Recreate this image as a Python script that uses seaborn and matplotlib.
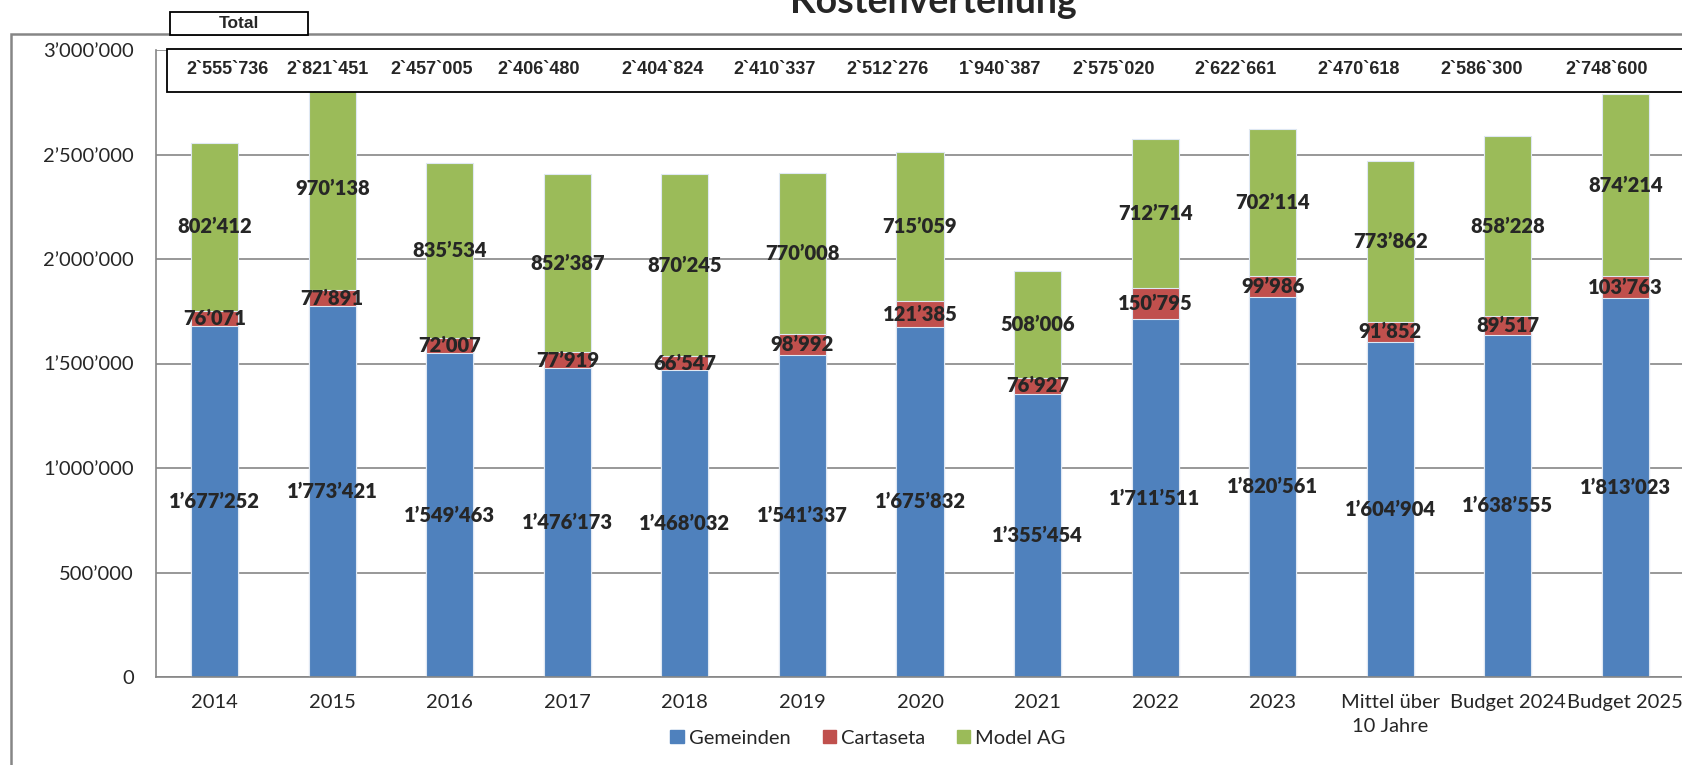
import numpy as np
import pandas as pd
import matplotlib
matplotlib.use("Agg")
import matplotlib.pyplot as plt
from matplotlib.patches import Rectangle, Patch
from matplotlib.ticker import FuncFormatter, FixedLocator
import seaborn as sns

# data
kategorien = ["2014", "2015", "2016", "2017", "2018", "2019", "2020", "2021",
              "2022", "2023", "Mittel über\n10 Jahre", "Budget 2024", "Budget 2025"]
gemeinden = [1677252, 1773421, 1549463, 1476173, 1468032, 1541337, 1675832,
             1355454, 1711511, 1820561, 1604904, 1638555, 1813023]
cartaseta = [76071, 77891, 72007, 77919, 66547, 98992, 121385,
             76927, 150795, 99986, 91852, 89517, 103763]
model_ag = [802412, 970138, 835534, 852387, 870245, 770008, 715059,
            508006, 712714, 702114, 773862, 858228, 874214]
totale = [2555736, 2821451, 2457005, 2406480, 2404824, 2410337, 2512276,
          1940387, 2575020, 2622661, 2470618, 2586300, 2748600]

# the totals sit in a separate text box, not aligned to the bars (pixel x of each)
total_x_px = [228, 328, 432, 539, 663, 775, 888, 1000, 1114, 1236, 1359, 1482, 1607]

df = pd.DataFrame({"kat": kategorien, "G": gemeinden, "C": cartaseta, "M": model_ag})
df["GC"] = df["G"] + df["C"]
df["GCM"] = df["GC"] + df["M"]

blau = "#4F81BD"
rot = "#C0504D"
gruen = "#9BBB59"
grau = "#868686"

sns.set_style("white")
plt.rcParams["font.family"] = ["Lato", "DejaVu Sans"]

W, H = 1683, 765
fig = plt.figure(figsize=(W / 100, H / 100), dpi=100)
ax = fig.add_axes([156 / W, 1 - 677 / H, 1528 / W, 627 / H])

# stacked by overdrawing cumulative sums
for col, c in [("GCM", gruen), ("GC", rot), ("G", blau)]:
    sns.barplot(data=df, x="kat", y=col, order=kategorien, color=c, saturation=1,
                width=0.4, edgecolor="#dfe8f3", linewidth=0.8, ax=ax, zorder=2)

ax.set_xlim(-0.5, len(kategorien) - 0.5)
ax.set_ylim(0, 3000000)
ax.set_xlabel("")
ax.set_ylabel("")

ax.yaxis.set_major_locator(FixedLocator(np.arange(0, 3000001, 500000)))
ax.yaxis.set_major_formatter(FuncFormatter(lambda v, p: f"{v:,.0f}".replace(",", "\u2019")))
ax.yaxis.grid(True, color=grau, lw=1.2)
ax.set_axisbelow(True)

for s in ["top", "right"]:
    ax.spines[s].set_visible(False)
for s in ["left", "bottom"]:
    ax.spines[s].set_color(grau)
    ax.spines[s].set_linewidth(1.2)

ax.tick_params(axis="y", length=5, color=grau, width=1.2, pad=11, labelsize=14.5)
ax.tick_params(axis="x", which="major", length=0, pad=12, labelsize=14.5)
ax.set_xticks(np.arange(-0.5, len(kategorien), 1), minor=True)
ax.tick_params(axis="x", which="minor", length=6, color=grau, width=1.2, direction="out")
for t in ax.get_xticklabels():
    t.set_linespacing(1.5)
    t.set_verticalalignment("top")

# segment labels, centered in each piece
lab = lambda v: f"{v:,.0f}".replace(",", "\u2019")
for i in range(len(kategorien)):
    g, c, m = gemeinden[i], cartaseta[i], model_ag[i]
    for y, v in [(g / 2, g), (g + c / 2, c), (g + c + m / 2, m)]:
        ax.text(i, y, lab(v), ha="center", va="center", fontsize=14.5, weight=800, zorder=5)

# legend
handles = [Patch(color=blau, label="Gemeinden"), Patch(color=rot, label="Cartaseta"),
           Patch(color=gruen, label="Model AG")]
fig.legend(handles=handles, loc="center", bbox_to_anchor=(868 / W, 1 - 738 / H), ncol=3,
           frameon=False, fontsize=14.5, handlelength=0.65, handleheight=0.65,
           handletextpad=0.25, columnspacing=1.6)

# outer chart frame
fig.add_artist(Rectangle((11 / W, -0.2), 1.2, (H - 34) / H + 0.2, transform=fig.transFigure,
                         fill=False, edgecolor=grau, lw=1.8, zorder=1))

# totals box on top of the bars
fig.add_artist(Rectangle((167 / W, 1 - 92 / H), 1.2, 43 / H, transform=fig.transFigure,
                         facecolor="white", edgecolor="black", lw=1.3, zorder=10))
for x, t in zip(total_x_px, totale):
    fig.text(x / W, 1 - 70 / H, f"{t:,.0f}".replace(",", "`"), ha="center", va="center",
             fontsize=13, weight="bold", family=["Liberation Sans", "DejaVu Sans"], zorder=11)

# "Total" caption box
fig.add_artist(Rectangle((170 / W, 1 - 35 / H), 138 / W, 23 / H, transform=fig.transFigure,
                         facecolor="white", edgecolor="black", lw=1.3, zorder=10))
fig.text(239 / W, 1 - 23.5 / H, "Total", ha="center", va="center", fontsize=12.5,
         weight="bold", family=["Liberation Sans", "DejaVu Sans"], zorder=11)

# title, cut off at the top like in the source
fig.text(933 / W, 1 - 13 / H, "Kostenverteilung", ha="center", va="baseline",
         fontsize=27, weight="bold")

fig.savefig("out.png", dpi=100)
